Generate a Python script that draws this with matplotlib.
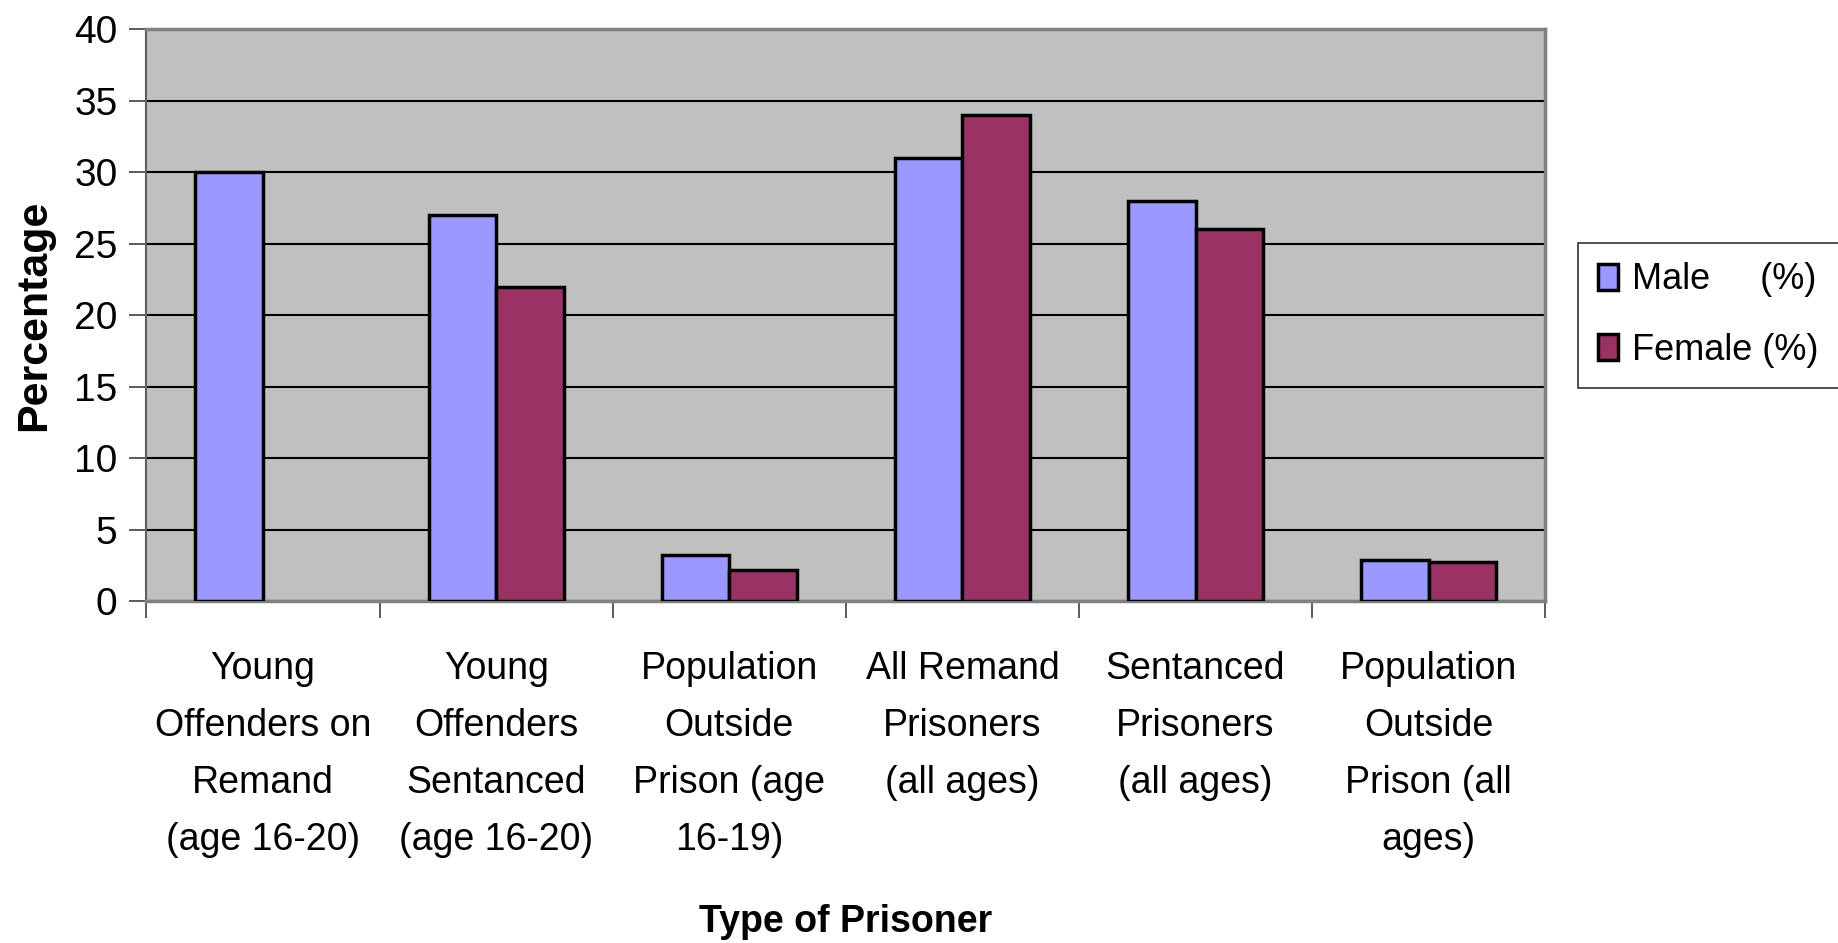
import matplotlib.pyplot as plt
from matplotlib.patches import Patch
import numpy as np

categories = [
    "Young\nOffenders on\nRemand\n(age 16-20)",
    "Young\nOffenders\nSentanced\n(age 16-20)",
    "Population\nOutside\nPrison (age\n16-19)",
    "All Remand\nPrisoners\n(all ages)",
    "Sentanced\nPrisoners\n(all ages)",
    "Population\nOutside\nPrison (all\nages)",
]
male = [30, 27, 3.2, 31, 28, 2.9]
female = [0, 22, 2.2, 34, 26, 2.7]

male_color = "#9999FF"
female_color = "#993366"

plt.rcParams['font.family'] = ['Liberation Sans', 'DejaVu Sans']

fig = plt.figure(figsize=(18.38, 9.43), dpi=100)
ax = fig.add_axes([0.0797, 0.3627, 0.761, 0.6063])
ax.set_facecolor("#C0C0C0")

x = np.arange(len(categories))
w = 0.29
ax.bar(x - w / 2, male, w, color=male_color, edgecolor="black", linewidth=2.5, zorder=3)
fb = ax.bar(x + w / 2, female, w, color=female_color, edgecolor="black", linewidth=2.5, zorder=3)
for b, v in zip(fb, female):
    if v == 0:
        b.set_visible(False)

ax.set_xlim(-0.5, len(categories) - 0.5)
ax.set_ylim(0, 40)
ax.set_yticks(np.arange(0, 41, 5))
ax.yaxis.grid(True, color="black", linewidth=1.5, zorder=1)
ax.tick_params(axis="y", labelsize=28, length=12, width=1.2, color="#404040", pad=9)

# category boundaries as major ticks, labels at centers as minor ticks
ax.set_xticks(np.arange(-0.5, len(categories), 1))
ax.set_xticklabels([])
ax.tick_params(axis="x", which="major", length=12, width=1.2, color="#404040")
ax.set_xticks(x, minor=True)
ax.set_xticklabels(categories, minor=True, fontsize=27, linespacing=1.75)
ax.tick_params(axis="x", which="minor", length=0, pad=36)

for s in ["top", "right"]:
    ax.spines[s].set_color("#808080")
    ax.spines[s].set_linewidth(2.5)
ax.spines["left"].set_color("#606060")
ax.spines["left"].set_linewidth(1.5)
ax.spines["bottom"].set_color("#808080")
ax.spines["bottom"].set_linewidth(2.5)

ax.set_ylabel("Percentage", fontsize=31, fontweight="bold", labelpad=14)
ax.set_xlabel("Type of Prisoner", fontsize=27, fontweight="bold", labelpad=33)

handles = [
    Patch(facecolor=male_color, edgecolor="black", linewidth=2.5, label="Male     (%)"),
    Patch(facecolor=female_color, edgecolor="black", linewidth=2.5, label="Female (%)"),
]
leg = ax.legend(handles=handles, loc="center left", bbox_to_anchor=(1.0236, 0.5),
                borderaxespad=0, fontsize=26, frameon=True, fancybox=False,
                edgecolor="black", handlelength=0.55, handleheight=0.75,
                handletextpad=0.4, borderpad=0.55, labelspacing=0.98)
leg.get_frame().set_linewidth(1.2)

fig.savefig("out.png", dpi=100)
